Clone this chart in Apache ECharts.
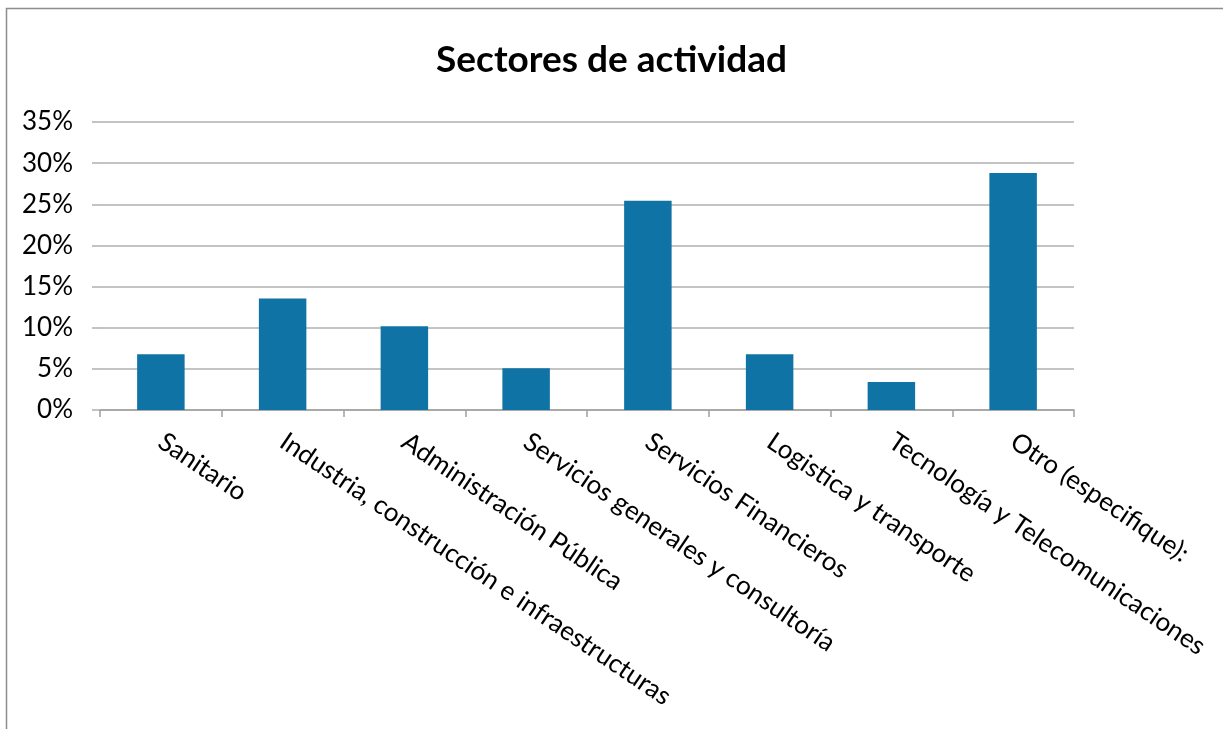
<!DOCTYPE html>
<html>
<head>
<meta charset="utf-8">
<script src="https://cdn.jsdelivr.net/npm/echarts@6/dist/echarts.min.js"></script>
<style>
html,body{margin:0;padding:0;background:#fff;}
#chart{width:1223px;height:729px;}
</style>
</head>
<body>
<div id="chart"></div>
<script>
const title = 'Sectores de actividad';
const categories = [
  'Sanitario',
  'Industria, construcción e infraestructuras',
  'Administración Pública',
  'Servicios generales y consultoría',
  'Servicios Financieros',
  'Logistica y transporte',
  'Tecnología y Telecomunicaciones',
  'Otro (especifique):'
];
const values = [6.78, 13.56, 10.17, 5.08, 25.42, 6.78, 3.39, 28.81];
const yTicks = { min: 0, max: 35, interval: 5 };

const chart = echarts.init(document.getElementById('chart'), null, { renderer: 'canvas' });
const gridColor = '#b0b0b0';
chart.setOption({
  backgroundColor: '#ffffff',
  animation: false,
  title: {
    text: title,
    left: 'center',
    top: 37,
    textStyle: { fontFamily: 'Lato', fontWeight: 'bold', fontSize: 37, color: '#000' }
  },
  graphic: [{
    type: 'rect',
    shape: { x: 6.5, y: 8.5, width: 1400, height: 900 },
    style: { fill: 'none', stroke: '#8c8c8c', lineWidth: 1.5 },
    silent: true
  }],
  grid: { left: 100, right: 149, top: 122, bottom: 319, containLabel: false },
  xAxis: {
    type: 'category',
    data: categories,
    axisLine: { show: true, lineStyle: { color: '#a0a0a0', width: 1.5 } },
    axisTick: { show: true, length: 7, interval: 0, alignWithLabel: false, lineStyle: { color: '#a0a0a0', width: 1.5 } },
    axisLabel: {
      interval: 0,
      rotate: -34,
      margin: 29,
      fontFamily: 'Lato',
      fontSize: 26,
      color: '#000'
    }
  },
  yAxis: {
    type: 'value',
    min: yTicks.min,
    max: yTicks.max,
    interval: yTicks.interval,
    axisLine: { show: false },
    axisTick: { show: true, length: 8, lineStyle: { color: gridColor, width: 1.5 } },
    splitLine: { show: true, lineStyle: { color: gridColor, width: 1.5 } },
    axisLabel: {
      formatter: '{value}%',
      margin: 27,
      fontFamily: 'Lato',
      fontSize: 26,
      color: '#000'
    }
  },
  series: [{
    type: 'bar',
    data: values,
    barWidth: '39%',
    itemStyle: { color: '#0f73a5' }
  }]
});
</script>
</body>
</html>
